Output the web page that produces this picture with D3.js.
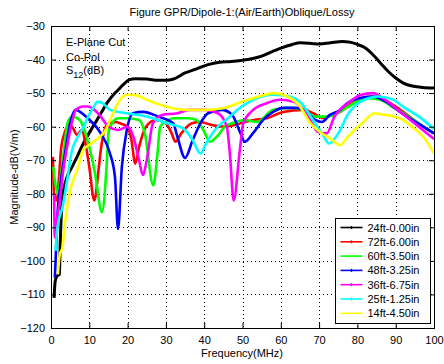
<!DOCTYPE html>
<html>
<head>
<meta charset="utf-8">
<script src="https://cdn.jsdelivr.net/npm/d3@7"></script>
<style>
  body { margin: 0; background: #fff; }
  svg { font-family: "Liberation Sans", Arial, sans-serif; }
</style>
</head>
<body>
<div id="chart"></div>
<script>
// [frequency MHz, magnitude dB]
const s24ft = [[0.8,-111],[1.1,-106],[1.6,-104.5],[2.2,-104],[2.4,-95],[2.7,-86],[3,-81],[4.2,-75],[5.5,-72],[6.8,-69],[8,-66],[9.4,-63],[10.7,-60.5],[12,-58],[13.3,-55.5],[14.6,-53],[16.7,-50],[18,-48.5],[19.3,-47],[20.5,-46],[22,-45.7],[25,-45.8],[28,-46.2],[30,-46.2],[32,-45.8],[35,-44],[38,-42.8],[41,-41.5],[44,-40.8],[47,-40.6],[50,-40.2],[53,-39.6],[55,-39],[57,-38],[60,-36.6],[63,-35.5],[65,-35],[68,-35.2],[70,-35.4],[73,-35],[76,-34.6],[78,-34.8],[80,-35.5],[82,-36.5],[84,-38.5],[86,-41],[88,-43.5],[90,-45.5],[92,-47],[94,-47.8],[97,-48.3],[100,-48.5]];
const s72ft = [[0.5,-69],[0.8,-80],[1.5,-82],[2.1,-75],[2.6,-67],[3.5,-62],[4.3,-60],[5,-59.5],[6,-61],[6.8,-62.5],[8,-61],[9,-65],[10,-72],[11.3,-82],[12.5,-72],[13,-67],[14.6,-59.5],[16,-58.8],[17,-58.6],[18,-59],[19.9,-60],[21,-64],[22,-71],[23,-66],[24.8,-60],[27.4,-58],[30,-59],[31.5,-62],[32.5,-64.5],[34,-62],[36.8,-59],[39,-58.6],[42,-59.5],[45,-60],[48,-59.5],[50.6,-58.6],[53,-58],[56.4,-57.5],[60.6,-55.6],[66,-55],[68.5,-56],[71,-57.4],[73.6,-56.5],[75.5,-55.6],[78,-53.5],[81,-52],[84,-51],[87,-52],[90,-54],[93,-56.5],[96,-59],[100,-62]];
const s60ft = [[0.6,-72],[1,-76],[1.8,-80],[2.5,-75],[3.4,-67],[4.3,-59],[5.5,-57],[7.5,-58],[9,-62],[10,-66],[11.5,-74],[13.3,-85.5],[14.5,-72],[15,-62],[15.5,-60],[17.5,-57.5],[20,-57.5],[23,-58],[24.5,-62],[26.7,-77.5],[27.8,-68],[28.5,-60],[30,-58.5],[32,-57.5],[36,-57.5],[38,-58],[40,-61.5],[41.5,-64.5],[43.3,-63],[45.4,-60],[48,-58.7],[50.6,-58],[53.8,-58.6],[58,-55],[62.4,-54.4],[66,-55],[69,-57],[72,-57],[74.6,-56],[77,-54.5],[80,-52.5],[83,-51.5],[86,-52],[89,-54],[92,-56],[96,-59],[100,-62]];
const s48ft = [[1,-105],[1.2,-100],[1.6,-88],[2.5,-77],[3.8,-67],[4.8,-60],[6.5,-55],[7.5,-55.5],[9.6,-57.5],[13,-62],[15.4,-68],[16.7,-75],[17.5,-90.5],[18.5,-72],[19.8,-61],[21.4,-56],[24,-55.6],[28,-57],[31.9,-59],[33,-63],[35,-69.3],[37,-64],[39,-59],[41,-56],[44.6,-55],[47.3,-56.5],[49.5,-62],[50.6,-64.5],[52.7,-62],[55.4,-58],[58,-55.6],[60.6,-54.4],[64,-54.4],[66.8,-55.6],[69,-58],[70.7,-58.6],[72.8,-56.5],[75.5,-55],[77,-53.3],[81,-51.4],[84,-51],[87.2,-52.4],[91.6,-56],[95.8,-59],[100,-62]];
const s36ft = [[0.8,-80],[1,-93],[1.5,-88],[2.2,-83],[3.2,-73],[4.2,-66],[5.2,-60],[6.5,-55],[8.4,-54],[9.6,-54],[11.4,-55],[13,-57],[15,-60],[17.5,-61],[20,-60],[21.5,-63],[23,-70],[24,-74.4],[25,-70],[26.6,-59],[29,-56.5],[33,-56],[36,-55],[40.2,-55],[43.6,-56],[45.9,-60],[46.7,-68],[47.7,-82],[49.3,-67],[50.2,-59],[52.8,-55],[56.3,-53],[59.8,-52],[63.3,-52.6],[65.8,-55],[68,-58.6],[69.7,-61.6],[72,-62],[74,-57],[77.5,-53],[81,-50.5],[84,-50],[87,-51.8],[91.6,-56],[95.8,-59.8],[100,-63.7]];
const s25ft = [[1.2,-97],[1.5,-92],[2,-88],[3,-84],[4.2,-76],[5.3,-68],[7,-63],[8.3,-60.5],[9.7,-57],[11.2,-54],[12.1,-52.6],[13.5,-53],[15.4,-55],[19.8,-56],[25,-57],[30.3,-59],[34.5,-60.5],[37,-64],[39,-68],[40.5,-65],[42.8,-61],[46.2,-57.5],[49.8,-54],[52.8,-52],[58,-50.5],[62.4,-51],[65,-52.6],[68.4,-58],[71,-62.5],[72.6,-65],[75,-62],[77.7,-56],[79.4,-53.8],[82.8,-51.5],[85.4,-51],[89,-51.8],[92.4,-54.4],[95.8,-56.8],[100,-60.7]];
const s14ft = [[1.8,-104],[2.3,-98],[3,-96],[3.5,-90],[4.1,-85],[5,-79],[6.8,-73],[8.4,-67],[10.5,-65],[12.8,-63],[14,-61.5],[16.2,-56],[17.5,-53],[18.8,-51],[20,-50.5],[22,-50.6],[25,-52],[30,-54],[35,-55],[40,-55],[45,-54.5],[50,-52.5],[55,-50.8],[58,-50],[61.7,-51],[65,-54],[67.5,-58.6],[70.2,-61.6],[72.8,-63.4],[75.5,-65.5],[77.5,-63],[81.2,-59],[84.6,-56],[86,-56.3],[89,-56.8],[91.6,-57.8],[95,-60.7],[97.6,-63.6],[100,-68]];

const seriesNames = ["24ft-0.00in","72ft-6.00in","60ft-3.50in","48ft-3.25in","36ft-6.75in","25ft-1.25in","14ft-4.50in"];
const seriesData = [s24ft, s72ft, s60ft, s48ft, s36ft, s25ft, s14ft];
const seriesColors = ["#000000","#ff0000","#00ff00","#0000ff","#ff00ff","#00ffff","#ffff00"];
const seriesMarker = [true, true, false, true, true, true, false];
const xTicks = [0,10,20,30,40,50,60,70,80,90,100];
const yTicks = [-120,-110,-100,-90,-80,-70,-60,-50,-40,-30];

const W = 444, H = 364;
const m = { left: 51, right: 10, top: 26, bottom: 36 };

const svg = d3.select("#chart").append("svg")
  .attr("width", W).attr("height", H)
  .style("font-size", "11px");

const x = d3.scaleLinear().domain([0, 100]).range([m.left, W - m.right]);
const y = d3.scaleLinear().domain([-120, -30]).range([H - m.bottom, m.top]);

// grid (dotted)
const grid = svg.append("g").attr("stroke", "#000").attr("stroke-width", 1)
  .attr("stroke-dasharray", "1,3");
grid.selectAll(".gx").data(xTicks.slice(1, -1)).join("line")
  .attr("x1", d => Math.round(x(d)) + 0.5).attr("x2", d => Math.round(x(d)) + 0.5)
  .attr("y1", y(-30)).attr("y2", y(-120));
grid.selectAll(".gy").data(yTicks.slice(1, -1)).join("line")
  .attr("y1", d => Math.round(y(d)) + 0.5).attr("y2", d => Math.round(y(d)) + 0.5)
  .attr("x1", x(0)).attr("x2", x(100));

// lines
const line = d3.line().x(d => x(d[0])).y(d => y(d[1])).curve(d3.curveMonotoneX);
svg.append("g").selectAll("path").data(seriesData).join("path")
  .attr("fill", "none")
  .attr("stroke", (d, i) => seriesColors[i])
  .attr("stroke-width", (d, i) => i === 0 ? 3 : 2.6)
  .attr("stroke-linejoin", "round")
  .attr("d", line);

// axes, MATLAB style: ticks inward on all sides
svg.append("g").attr("transform", `translate(0,${y(-120)})`)
  .call(d3.axisBottom(x).tickValues(xTicks).tickSizeInner(-5).tickSizeOuter(0).tickPadding(8))
  .call(g => g.select(".domain").remove());
svg.append("g").attr("transform", `translate(0,${y(-30)})`)
  .call(d3.axisTop(x).tickValues(xTicks).tickSizeInner(-5).tickSizeOuter(0).tickFormat(""))
  .call(g => g.select(".domain").remove());
svg.append("g").attr("transform", `translate(${x(0)},0)`)
  .call(d3.axisLeft(y).tickValues(yTicks).tickSizeInner(-5).tickSizeOuter(0).tickPadding(6))
  .call(g => g.select(".domain").remove());
svg.append("g").attr("transform", `translate(${x(100)},0)`)
  .call(d3.axisRight(y).tickValues(yTicks).tickSizeInner(-5).tickSizeOuter(0).tickFormat(""))
  .call(g => g.select(".domain").remove());
svg.selectAll(".tick text").attr("font-size", 11).attr("font-family", "Liberation Sans, Arial, sans-serif").attr("fill", "#000");

svg.append("rect")
  .attr("x", x(0) + 0.5).attr("y", y(-30) + 0.5)
  .attr("width", x(100) - x(0)).attr("height", y(-120) - y(-30))
  .attr("fill", "none").attr("stroke", "#000");

// title and labels
svg.append("text").attr("x", 242).attr("y", 16).attr("text-anchor", "middle")
  .text("Figure GPR/Dipole-1:(Air/Earth)Oblique/Lossy");
svg.append("text").attr("x", 242).attr("y", 357).attr("text-anchor", "middle")
  .text("Frequency(MHz)");
svg.append("text").attr("transform", "translate(18,177) rotate(-90)").attr("text-anchor", "middle")
  .text("Magnitude-dB(V/m)");

const note = svg.append("g").attr("font-size", 11);
note.append("text").attr("x", 66).attr("y", 46).text("E-Plane Cut");
note.append("text").attr("x", 66).attr("y", 61).text("Co-Pol");
const s12 = note.append("text").attr("x", 66).attr("y", 74);
s12.append("tspan").text("S");
s12.append("tspan").attr("font-size", 9).attr("dy", 4).text("12");
s12.append("tspan").attr("dy", -4).text("(dB)");

// legend
const lg = svg.append("g").attr("transform", "translate(335.5,218.5)");
lg.append("rect").attr("width", 95).attr("height", 105).attr("fill", "#fff").attr("stroke", "#000");
const items = lg.selectAll(".item").data(seriesNames).join("g")
  .attr("transform", (d, i) => `translate(0,${9 + i * 14.3})`);
items.append("line").attr("x1", 5).attr("x2", 27)
  .attr("stroke", (d, i) => seriesColors[i]).attr("stroke-width", 1.6);
items.filter((d, i) => seriesMarker[i]).append("line")
  .attr("x1", 16).attr("x2", 16).attr("y1", -1.5).attr("y2", 1.5)
  .attr("stroke", (d) => seriesColors[seriesNames.indexOf(d)]).attr("stroke-width", 1.5);
items.append("text").attr("x", 32).attr("y", 4).text(d => d);
</script>
</body>
</html>
